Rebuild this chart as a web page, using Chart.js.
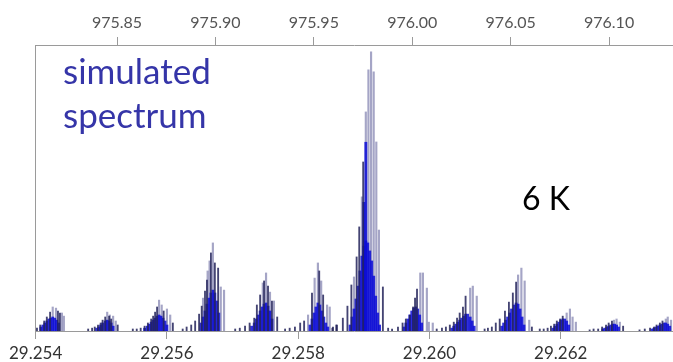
<!DOCTYPE html>
<html><head><meta charset="utf-8">
<script src="https://cdn.jsdelivr.net/npm/chart.js@4.4.1/dist/chart.umd.min.js"></script>
<style>html,body{margin:0;padding:0;background:#fff;overflow:hidden}#wrap{position:relative;width:673px;height:362px}canvas{display:block}</style>
</head><body><div id="wrap"><canvas id="c" width="673" height="362"></canvas></div>
<script>
// Tick labels
const bottomTicks = [29.254, 29.256, 29.258, 29.260, 29.262];   // THz
const topTicks = [975.85, 975.90, 975.95, 976.00, 976.05, 976.10]; // cm-1

// Tall, light stick lines (frequency THz, relative intensity)
const grayFreq = [
 29.25426,29.25431,29.25440,29.25443,
 29.25509,29.25513,29.25518,29.25522,
 29.25588,29.25592,29.25600,29.25605,
 29.25655,29.25662,29.25665,29.25670,29.25682,29.25687,
 29.25746,29.25751,29.25757,29.25763,
 29.25815,29.25825,29.25830,29.25835,29.25844,29.25848,
 29.25885,29.25897,29.25903,29.25907,29.25911,29.25915,29.25919,29.25923,
 29.25986,29.25990,29.25996,29.25999,29.26005,
 29.26062,29.26066,29.26072,
 29.26135,29.26140,29.26145,29.26152,
 29.26209,29.26214,29.26218,29.26223,
 29.26281,29.26285,29.26290,
 29.26360,29.26363,29.26368];
const grayInt = [
 .084,.080,.063,.052,
 .066,.056,.052,.035,
 .108,.091,.077,.056,
 .115,.210,.245,.308,.154,.143,
 .168,.203,.136,.105,
 .056,.185,.238,.175,.091,.084,
 .189,.469,.766,.913,.976,.906,.661,.353,
 .203,.203,.150,.031,.028,
 .150,.157,.122,
 .196,.220,.175,.038,
 .063,.077,.049,.031,
 .038,.042,.031,
 .042,.049,.038];

// Dark stick lines
const darkFreq = [
 29.25402,29.25407,29.25413,29.25417,29.25422,29.25434,29.25437,
 29.25480,29.25486,29.25490,29.25495,29.25499,29.25502,29.25506,29.25512,29.25515,29.25525,
 29.25548,29.25554,29.25560,29.25566,29.25571,29.25576,29.25579,29.25582,29.25585,29.25595,29.25609,
 29.25624,29.25630,29.25637,29.25643,29.25649,29.25653,29.25658,29.25661,29.25667,29.25673,29.25678,
 29.25704,29.25711,29.25719,29.25726,29.25733,29.25737,29.25742,29.25748,29.25754,29.25760,29.25768,
 29.25780,29.25787,29.25795,29.25803,29.25809,29.25821,29.25832,29.25838,29.25853,29.25859,
 29.25852,29.25858,29.25868,29.25875,29.25881,29.25889,29.25893,29.25899,29.25929,29.25937,29.25943,
 29.25952,29.25959,29.25964,29.25970,29.25975,29.25978,29.25981,
 29.26011,29.26019,29.26025,29.26031,29.26037,29.26042,29.26046,29.26051,29.26055,
 29.26084,29.26089,29.26095,29.26101,29.26107,29.26115,29.26121,29.26127,29.26132,29.26156,
 29.26168,29.26174,29.26180,29.26185,29.26190,29.26194,29.26199,29.26203,
 29.26244,29.26250,29.26257,29.26263,29.26269,29.26273,29.26278,29.26295,
 29.26320,29.26328,29.26336,29.26342,29.26346,29.26351,29.26355];
const darkInt = [
 .010,.021,.035,.049,.066,.070,.063,
 .007,.010,.014,.021,.028,.038,.049,.052,.042,.021,
 .007,.007,.010,.017,.028,.042,.052,.066,.084,.070,.028,
 .007,.014,.021,.035,.059,.087,.140,.178,.273,.238,.220,
 .007,.010,.017,.028,.045,.091,.126,.175,.157,.105,.049,
 .007,.010,.014,.028,.035,.133,.210,.126,.014,.021,
 .010,.021,.045,.087,.161,.259,.364,.591,.154,.010,.007,
 .014,.028,.042,.056,.084,.115,.147,
 .007,.010,.014,.021,.031,.045,.063,.084,.122,
 .007,.010,.014,.028,.042,.070,.101,.133,.171,.014,
 .007,.007,.010,.017,.024,.035,.042,.052,
 .004,.007,.007,.014,.021,.028,.035,.017,
 .004,.007,.010,.014,.021,.028,.035];

// Dense blue stick lines (band cores)
const blueFreq = [
 29.25408,29.25411,29.25414,29.25417,29.25420,29.25423,29.25426,29.25429,29.25432,29.25435,
 29.25493,29.25496,29.25499,29.25502,29.25506,29.25509,29.25512,29.25515,29.25518,
 29.25566,29.25570,29.25573,29.25576,29.25579,29.25582,29.25585,29.25588,29.25591,29.25594,29.25597,29.25600,
 29.25652,29.25655,29.25658,29.25661,29.25664,29.25667,29.25670,29.25673,29.25676,29.25679,
 29.25729,29.25733,29.25736,29.25739,29.25742,29.25745,29.25748,29.25751,29.25754,29.25757,29.25760,
 29.25818,29.25821,29.25824,29.25827,29.25830,29.25833,29.25836,29.25839,29.25842,29.25845,
 29.25879,29.25882,29.25885,29.25888,29.25891,29.25894,29.25897,29.25900,29.25903,29.25906,29.25909,29.25912,29.25915,29.25918,29.25921,29.25924,29.25900,29.25903,
 29.25961,29.25964,29.25967,29.25970,29.25973,29.25976,29.25979,29.25982,29.25985,29.25988,
 29.26034,29.26037,29.26040,29.26043,29.26046,29.26049,29.26052,29.26055,29.26058,29.26062,29.26065,29.26068,
 29.26110,29.26113,29.26116,29.26119,29.26122,29.26125,29.26129,29.26132,29.26135,29.26138,29.26141,29.26144,
 29.26188,29.26191,29.26194,29.26197,29.26200,29.26203,29.26206,29.26209,29.26212,
 29.26264,29.26267,29.26270,29.26273,29.26276,29.26279,29.26282,29.26285,29.26288,
 29.26339,29.26342,29.26345,29.26348,29.26351,29.26354,29.26357,29.26360,29.26363,29.26366];
const blueInt = [
 .014,.021,.028,.035,.042,.045,.049,.045,.038,.028,
 .010,.014,.021,.028,.035,.038,.035,.028,.017,
 .010,.017,.024,.031,.038,.045,.052,.056,.052,.045,.035,.021,
 .028,.049,.070,.094,.115,.133,.143,.133,.105,.063,
 .017,.028,.042,.056,.070,.084,.094,.098,.087,.070,.042,
 .021,.042,.063,.084,.098,.091,.070,.049,.028,.014,
 .021,.049,.077,.112,.157,.210,.262,.297,.315,.308,.280,.245,.192,.122,.063,.021,.450,.660,
 .014,.028,.042,.056,.070,.080,.084,.077,.056,.028,
 .010,.017,.024,.031,.038,.045,.052,.059,.059,.049,.035,.017,
 .017,.028,.038,.049,.063,.077,.091,.098,.094,.077,.049,.021,
 .010,.017,.024,.031,.038,.042,.042,.035,.021,
 .007,.010,.014,.017,.021,.024,.024,.021,.014,
 .007,.010,.014,.017,.021,.024,.028,.028,.024,.017];

const pts = (f, v) => f.map((x, i) => ({x: x, y: v[i]}));

const textPlugin = {
  id: 'labels',
  afterDraw(chart) {
    const ctx = chart.ctx;
    ctx.save();
    ctx.textBaseline = 'alphabetic';
    ctx.textAlign = 'left';
    ctx.fillStyle = '#3535a8';
    ctx.font = '35px Lato';
    ctx.fillText('simulated', 63, 84);
    ctx.fillText('spectrum', 63, 128);
    ctx.fillStyle = '#000';
    ctx.font = '32px Lato';
    ctx.fillText('6 K', 522, 210);
    ctx.restore();
  }
};

const axisColor = '#9a9a9a';
new Chart(document.getElementById('c'), {
  type: 'bar',
  data: { datasets: [
    { label: 'dark', data: pts(darkFreq, darkInt), backgroundColor: 'rgba(35,35,90,0.85)', barThickness: 1.2, grouped: false },
    { label: 'blue', data: pts(blueFreq, blueInt), backgroundColor: 'rgba(12,12,215,0.85)', barThickness: 2.2, grouped: false },
    { label: 'gray', data: pts(grayFreq, grayInt), backgroundColor: 'rgba(105,105,160,0.6)', barThickness: 1.5, grouped: false }
  ]},
  options: {
    responsive: false, devicePixelRatio: 1, animation: false,
    layout: { padding: 0 },
    plugins: { legend: { display: false }, tooltip: { enabled: false } },
    scales: {
      x: {
        type: 'linear', position: 'bottom', min: 29.25399, max: 29.26371, offset: false,
        grid: { display: true, offset: false, drawOnChartArea: false, drawTicks: true, tickLength: 8, color: axisColor },
        border: { display: true, color: axisColor },
        ticks: { autoSkip: false, maxRotation: 0, padding: 4, color: '#333', font: { family: 'Lato', size: 17 },
                 callback: v => Number(v).toFixed(3) },
        afterBuildTicks: s => { s.ticks = bottomTicks.map(v => ({ value: v })); },
        afterFit: s => { s.height = 31; }
      },
      x2: {
        type: 'linear', axis: 'x', position: 'top', min: 975.80834, max: 976.13247, offset: false,
        grid: { display: true, offset: false, drawOnChartArea: false, drawTicks: true, tickLength: 8, color: axisColor },
        border: { display: true, color: axisColor },
        ticks: { autoSkip: false, maxRotation: 0, padding: 5, color: '#555', font: { family: 'Lato', size: 16 },
                 callback: v => Number(v).toFixed(2) },
        afterBuildTicks: s => { s.ticks = topTicks.map(v => ({ value: v })); },
        afterFit: s => { s.height = 45; }
      },
      y: {
        type: 'linear', min: 0, max: 1,
        ticks: { display: false }, grid: { display: false },
        border: { display: true, color: axisColor },
        afterFit: s => { s.width = 35; }
      }
    }
  },
  plugins: [textPlugin]
});
</script>
</body></html>
